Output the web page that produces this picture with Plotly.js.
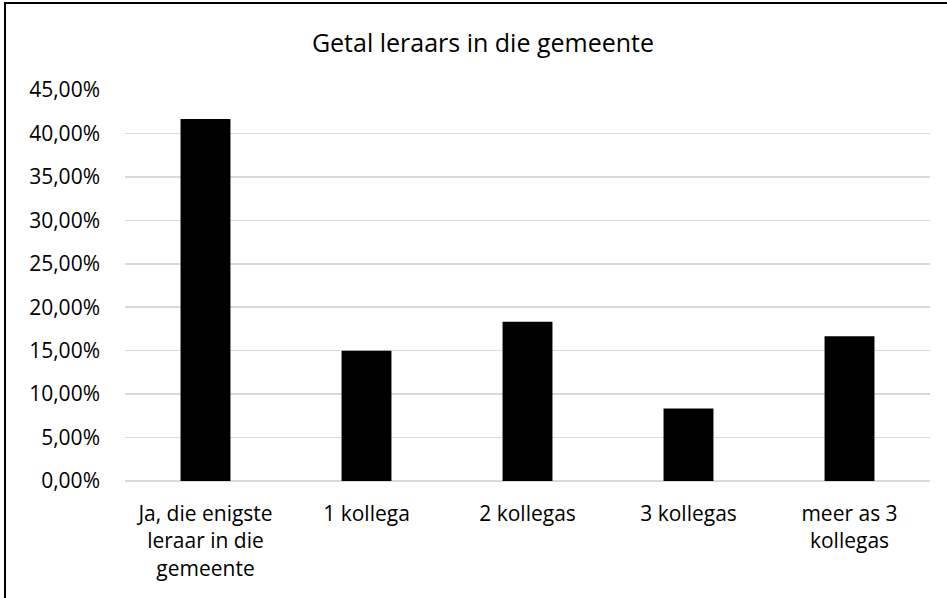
<!DOCTYPE html>
<html>
<head>
<meta charset="utf-8">
<script src="https://cdn.plot.ly/plotly-3.0.1.min.js"></script>
<style>
  html, body { margin: 0; padding: 0; background: #fff; overflow: hidden; }
  #wrap { position: relative; width: 947px; height: 598px; }
  #chart { width: 947px; height: 598px; }
  #frame { position: absolute; left: 4px; top: 2px; width: 980px; height: 640px;
           border: 2px solid #000; pointer-events: none; box-sizing: border-box; }
</style>
</head>
<body>
<div id="wrap">
  <div id="chart"></div>
  <div id="frame"></div>
</div>
<script>
const categories = [
  "Ja, die enigste<br>leraar in die<br>gemeente",
  "1 kollega",
  "2 kollegas",
  "3 kollegas",
  "meer as 3<br>kollegas"
];
const shares = [0.4167, 0.15, 0.1833, 0.0833, 0.1667];
const yTicks = [0, 0.05, 0.10, 0.15, 0.20, 0.25, 0.30, 0.35, 0.40, 0.45];
const chartTitle = "Getal leraars in die gemeente";

const FONT = "Open Sans, Liberation Sans, sans-serif";

const data = [{
  type: "bar",
  x: categories,
  y: shares,
  marker: { color: "#000000", line: { color: "#000000", width: 0 } },
  hoverinfo: "skip"
}];

const layout = {
  width: 947,
  height: 598,
  margin: { l: 125, r: 17, t: 90, b: 117, pad: 0 },
  paper_bgcolor: "#ffffff",
  plot_bgcolor: "#ffffff",
  separators: ", ",
  bargap: 0.69,
  showlegend: false,
  font: { family: FONT, color: "#000000", size: 21 },
  title: {
    text: chartTitle,
    font: { family: FONT, size: 25, color: "#000000" },
    x: 0.51, xanchor: "center",
    y: 0.928, yanchor: "middle"
  },
  xaxis: {
    type: "category",
    showgrid: false,
    showline: false,
    zeroline: false,
    ticks: "",
    tickfont: { family: FONT, size: 21, color: "#000000" },
    ticklabelstandoff: 18,
    fixedrange: true
  },
  yaxis: {
    range: [0, 0.45],
    tickvals: yTicks,
    tickformat: ".2%",
    showgrid: true,
    gridcolor: "#d9d9d9",
    gridwidth: 1.5,
    zeroline: true,
    zerolinecolor: "#d9d9d9",
    zerolinewidth: 1.5,
    showline: false,
    ticks: "",
    ticklabelstandoff: 24,
    tickfont: { family: FONT, size: 21, color: "#000000" },
    fixedrange: true
  }
};

Plotly.newPlot("chart", data, layout, { displayModeBar: false, staticPlot: true });
</script>
</body>
</html>
